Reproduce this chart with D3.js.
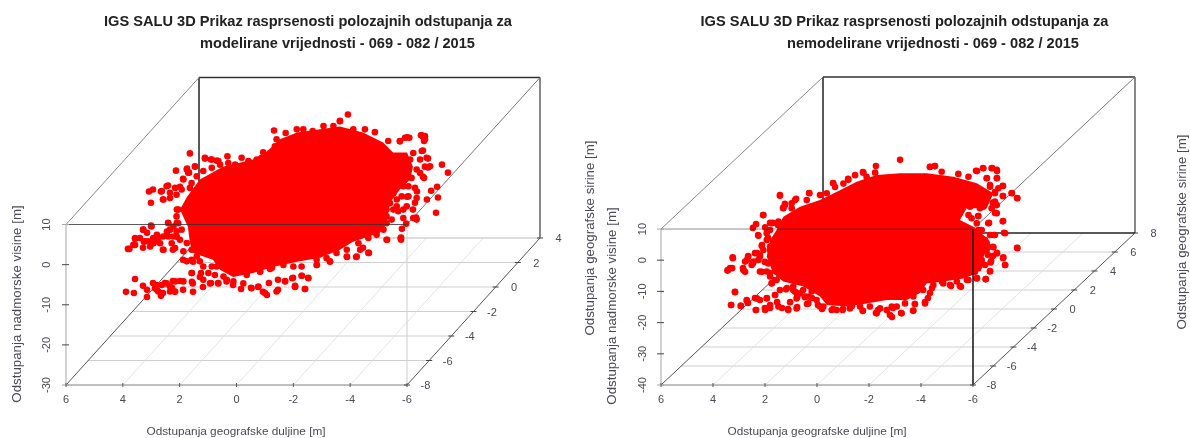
<!DOCTYPE html>
<html><head><meta charset="utf-8">
<script src="https://cdn.jsdelivr.net/npm/d3@7"></script>
<style>
html,body{margin:0;padding:0;background:#fff}
svg{display:block;filter:blur(0.45px)}
text{font-family:"Liberation Sans",Arial,sans-serif}
</style></head><body>
<svg id="c" width="1190" height="438"></svg>
<script>
// --- DATA. The depth of a single point cannot be
// recovered from a 2D projection, so each point is read as [longitude, height] on one depth plane.
const lonTicks = [6,4,2,0,-2,-4,-6];
const leftLatTicks = [-8,-6,-4,-2,0,2,4];
const rightLatTicks = [-8,-6,-4,-2,0,2,4,6,8];
const leftHeightTicks = [10,0,-10,-20,-30];
const rightHeightTicks = [10,0,-10,-20,-30,-40];
const leftReadPlaneLat = -2;
const rightReadPlaneLat = 0;

// outline of the saturated core, where single points can no longer be told apart
const leftCore = [[4.33,-4.6],[4.08,-1.4],[3.63,2.9],[2.82,6.1],[1.76,7.9],[1.27,9.9],[0.81,12.9],[0.21,14.6],[-0.60,15.4],[-1.30,16.1],[-2.11,14.6],[-2.82,12.1],[-3.17,9.6],[-3.66,9.6],[-3.87,6.1],[-3.77,2.9],[-3.41,0.4],[-3.06,-2.9],[-2.96,-7.1],[-2.71,-10.4],[-1.76,-12.6],[-1.30,-14.6],[-0.60,-16.6],[0.21,-17.6],[1.06,-18.9],[1.76,-20.4],[2.46,-21.4],[2.92,-19.6],[3.17,-17.1],[3.87,-15.4],[3.98,-12.9],[4.05,-8.9]];

const leftPoints = [[1.02,15.1],[3.98,9.4],[4.47,5.1],[4.08,5.6],[3.80,6.1],[3.45,8.1],[3.24,7.9],[3.03,7.6],[5.42,-0.1],[5.28,0.4],[5.35,-2.9],[5.0,-0.1],[4.93,-2.1],[4.75,1.4],[4.68,-0.4],[4.33,1.1],[4.22,3.1],[4.01,4.6],[4.44,-4.6],[4.08,-4.1],[5.35,-8.6],[4.75,-7.9],[5.63,-9.6],[5.49,-10.4],[5.14,-10.9],[4.79,-10.1],[4.44,-7.9],[5.91,-11.9],[5.60,-12.6],[5.28,-12.9],[6.16,-14.4],[4.44,-11.4],[5.91,-13.4],[5.63,-14.1],[4.93,-14.6],[4.58,-14.6],[4.22,-17.1],[3.87,-17.6],[5.91,-21.9],[6.23,-25.1],[5.95,-25.4],[5.63,-23.6],[5.49,-24.6],[5.49,-26.4],[5.28,-22.9],[5.14,-24.6],[4.93,-25.4],[5.0,-26.1],[4.86,-22.9],[4.58,-22.4],[4.61,-24.1],[4.51,-25.1],[4.22,-24.6],[4.33,-22.4],[3.87,-25.1],[3.91,-22.6],[3.63,-21.4],[3.91,-20.4],[3.52,-23.9],[3.24,-22.9],[2.99,-22.9],[2.68,-22.1],[2.46,-23.4],[2.18,-24.4],[1.83,-24.1],[1.58,-23.9],[1.41,-25.1],[1.27,-25.9],[1.20,-22.9],[0.88,-24.6],[0.88,-22.1],[0.63,-22.4],[0.35,-21.6],[0.28,-23.9],[1.51,-20.1],[1.09,-19.1],
[-1.58,19.1],[-1.30,17.4],[-4.22,13.6],[-4.29,12.9],[-4.15,13.9],[-3.66,13.4],[-3.41,12.4],[-4.22,10.1],[-4.40,8.1],[-4.89,6.6],[-5.10,4.6],[-4.29,6.1],[-4.40,5.9],[-4.22,3.6],[-4.72,1.1],[-4.51,0.1],[-4.75,-1.6],[-4.36,-2.1],[-4.68,-5.4],[-3.94,-2.9],[-3.98,-6.6],[-3.63,-8.1],[-3.48,-9.4],[-3.45,-11.6],[-2.96,-12.1],[-4.01,-0.1],[-3.66,-1.4],[-3.87,-4.6],[-3.45,-12.1],[-2.32,-15.4],[-2.11,-14.1],[-2.01,-14.6],[-1.87,-16.4],[-1.55,-16.4],[-0.95,-17.6],[-0.49,-18.4],[-0.18,-21.6],[0.04,-21.1],[-0.07,-24.4],[0.28,-23.6],
[3.45,8.3],[3.21,7.9],[2.98,7.5],[2.66,8.7],[2.63,7.0],[2.16,8.3],[1.92,7.5],[1.63,7.9],[1.40,9.7],[0.99,11.2],[0.93,12.9],[0.61,14.5],[0.22,15.4],[-0.01,15.4],[-0.34,15.0],[-0.72,16.2],[-1.07,16.2],[-1.30,17.5],[-1.77,15.4],[-2.18,15.4],[-2.53,14.7],[-3.00,12.5],[-3.41,12.5],[-3.59,13.3],[-3.74,13.3],[-4.18,13.9],[-4.29,13.7],[-4.26,12.5],[-4.18,10.0],[-4.35,8.3],[-4.47,6.2],[-4.12,4.5],[-4.26,3.3],[-3.94,0.8],[-4.0,-1.7],[-3.53,6.2],[-3.65,4.1],[-3.47,-1.3],[-3.65,-3.8],[-3.35,-5.0],[-3.53,-6.7],[-3.88,-6.7],[-4.0,-7.1],[-2.94,-4.6],[-3.06,-3.0],[-2.59,-10.9],[-2.94,-12.1],[-3.44,-11.7],[-2.30,-15.4],[-1.89,-16.3],[-1.54,-16.3],[-0.95,-17.5],[-0.48,-18.4],[-0.07,-24.4],[-0.19,-21.7],[0.05,-21.1],[0.38,-21.7],[0.28,-23.8],[0.63,-22.5],[0.93,-25.0],[1.34,-25.4],[1.81,-24.2],[1.57,-23.8],[2.10,-23.0],[2.45,-22.5],[2.69,-22.5],[2.98,-23.0],[3.27,-23.0],[3.51,-22.1],[3.59,-20.4],[3.92,-20.4],[3.88,-23.0],[4.21,-22.5],[4.50,-22.5],[4.80,-23.0],
[4.09,5.4],[4.04,4.6],[3.80,6.2],[4.21,2.9],[4.50,0.8],[4.80,1.2],[4.97,0],[4.91,-2.1],[4.68,-1.7],[4.45,-0.9],[4.27,0.4],[3.98,0.8],[4.39,-4.6],[4.09,-4.2],[4.45,-6.3],[4.74,-8.0],[5.33,-8.8],[5.62,-9.6],[5.91,-11.7],[5.97,-13.4],[6.11,-14.4],[5.56,-12.5],[5.38,-13.8],[5.09,-11.7],[4.91,-14.6],[4.62,-13.0],[4.50,-14.2],[4.33,-12.1],[4.21,-15.0],[4.27,-9.6],[3.92,-17.1],[4.09,-17.5],[3.63,-17.5],[3.21,-18.8],[2.92,-18.0],
[5.27,-13.0],[5.15,-12.5],[5.44,-12.5],[5.03,-13.0],[5.27,-11.7],[4.56,-11.3],[4.45,-10.0],[4.74,-11.3],[4.56,-8.8],[5.15,-23.4],[4.97,-23.4],[5.21,-24.2],[5.09,-25.0],[4.68,-23.8],[4.50,-25.0],[4.68,-25.0],
[-3.77,7.9],[-3.88,9.5],[-3.53,1.2],[-3.18,-0.5],[-3.30,-3.8],[-2.94,-8.0],[-2.83,-9.6],[-3.18,-4.6],[-3.71,-1.3],[-3.53,-4.6],[-4.12,7.9],
[4.68,-9.6],[4.09,-12.95],[3.92,-14.6],[3.74,-16.3],[3.51,-18.8],[3.33,-20.4],[3.1,-20.9],[2.80,-21.3],[3.04,-18.8],[4.39,-8.0],[4.92,-11.3],[5.74,-11.7],
[-3.30,3.7],[-3.53,2.5],[-3.18,1.6],[-2.94,0.4],[-3.06,-1.3],[-3.30,-2.1],[-2.83,-3.8],[-2.94,-6.3],[-3.12,-7.1],[-2.77,-8.4],[-3.71,1.2],[-3.82,3.3],[-4.0,5.4],
[1.98,-20.9],[1.51,-20.0],[1.16,-19.4],[0.69,-18.4],[0.34,-18.8],[0.05,-18.8],[-0.48,-17.1],[-0.83,-16.7],[-1.18,-15.4],[-1.54,-14.6],[-1.95,-13.0],[-2.30,-11.7],
[3.74,3.7],[3.51,5.0],[3.21,5.8],[2.92,6.6],[2.39,6.6],[1.87,7.0],[1.45,8.3],[1.16,9.5],[3.92,2.0]];

const rightCore = [[4.67,-14.7],[4.41,-10.4],[3.77,-7.2],[3.0,-5.1],[2.23,-1.9],[1.59,0.8],[0.82,2.95],[-0.08,3.5],[-1.10,3.5],[-2.13,2.4],[-3.03,0.3],[-3.67,-2.9],[-3.41,-7.7],[-2.64,-7.7],[-2.38,-11.5],[-2.90,-13.6],[-3.35,-16.8],[-3.35,-22.1],[-3.03,-28.6],[-2.51,-30.2],[-1.74,-31.2],[-1.10,-31.8],[-0.85,-34.9],[-0.33,-37.1],[0.44,-37.1],[1.21,-38.2],[1.97,-39.2],[2.74,-38.7],[3.0,-36.0],[3.64,-32.8],[4.41,-31.2],[4.80,-28.6],[5.05,-23.2],[4.92,-17.9]];

const rightPoints = [[0.85,5.8],[-0.08,7.8],[1.35,3.9],[1.65,2.9],[1.92,1.7],[2.50,0.4],[2.42,-0.9],[3.42,-2.8],[3.92,-4.7],[4.54,-3.5],[4.35,-6.3],[4.42,-7.6],[5.19,-9.9],[5.46,-12.8],[5.58,-14.0],[4.92,-12.4],[5.38,-16.3],[5.04,-14.7],[4.81,-12.4],[4.62,-13.1],[5.0,-17.2],[4.65,-18.5],[5.23,-19.5],[6.35,-23.7],[5.77,-23.3],[5.42,-22.1],[6.54,-27.5],[6.38,-26.9],[5.96,-26.9],[5.88,-28.1],[5.81,-24.3],[5.58,-25.3],[5.23,-28.1],[4.92,-28.5],[4.85,-31.7],[6.27,-34.5],[6.42,-38.7],[6.04,-39.0],[5.81,-37.4],[5.77,-38.1],[5.46,-40.3],[5.50,-36.5],[5.31,-37.1],[5.04,-36.5],[5.12,-39.7],[4.92,-39.7],[4.73,-35.5],[4.65,-37.8],[4.46,-39.7],[4.23,-40.0],[4.15,-37.8],[3.88,-39.4],[3.88,-36.2],[4.27,-33.3],[3.58,-36.2],[3.50,-38.4],[3.31,-36.5],[3.08,-38.7],[2.92,-40.0],[2.50,-40.0],[2.12,-40.0],[1.77,-39.0],[1.35,-40.6],[0.85,-41.3],[0.77,-40.3],[3.65,-33.9],[2.92,-33.3],
[0.23,-42.6],[-0.12,-41.3],[-0.58,-40.6],[0.19,-39.7],[0.42,-40.3],[-0.65,-38.4],[-1.04,-37.8],[-1.15,-36.5],[-0.85,-33.6],[-1.31,-33.3],[-1.69,-31.3],[-2.04,-32.6],[-2.42,-32.9],[-2.65,-30.7],[-3.04,-30.1],[-3.38,-30.4],[-2.96,-28.1],[-3.54,-27.8],[-3.15,-25.9],[-3.58,-24.6],[-4.12,-25.9],[-4.04,-23.7],[-3.65,-23.0],[-3.81,-22.1],[-4.58,-20.4],[-3.65,-20.1],[-3.46,-20.1],[-3.73,-16.3],[-4.08,-15.6],
[-1.42,5.8],[-1.23,5.5],[-3.04,4.2],[-3.27,5.2],[-3.62,5.2],[-3.81,4.2],[-3.81,2.0],[-4.04,-0.6],[-4.38,-2.8],[-4.58,-4.4],[-4.04,-3.8],[-3.73,-9.2],[-3.08,-10.2],[-3.50,-12.4],[-4.04,-11.8],[-3.65,-6.0],[-3.42,2.0],[-3.73,-2.5],
[-3.35,-5.1],[-3.54,-0.3],[-3.35,-17.9],[-3.54,-16.3],[-3.46,-22.7],[-3.35,-25.9],[5.12,-24.9],[4.73,-30.7],[4.54,-33.9],[3.96,-34.5],[5.31,-22.7],[4.92,-21.1],
[0.88,3.7],[1.33,3.7],[1.91,1.4],[2.49,0.3],[3.41,-2.9],[3.96,-5.1],[4.54,-3.7],[4.35,-6.7],[4.41,-7.7],[5.18,-9.9],[5.11,-13.8],[4.86,-12.5],[4.60,-12.0],[5.37,-16.5],[5.05,-15.7],[5.24,-19.8],[4.92,-20.0],[6.36,-23.4],[5.76,-23.0],[5.5,-22.1],[5.37,-24.3],[5.88,-24.8],[6.46,-26.9],[6.56,-27.7],[5.95,-27.5],[5.63,-25.9],[5.31,-28.0],[5.05,-28.0],[4.86,-31.8],[6.27,-34.6],[6.42,-38.7],[6.05,-39.0],[5.82,-37.1],[5.47,-40.3],[5.43,-36.6],[5.11,-40.3],[5.05,-36.6],[4.73,-35.5],[4.92,-38.7],[4.60,-39.2],[4.22,-40.3],[3.90,-39.8],[3.90,-36.6],[4.31,-33.7],[4.03,-32.8],[3.45,-38.2],[3.58,-36.0],[3.32,-34.4],[3.0,-39.2],[2.55,-40.3],[2.13,-40.3],[1.36,-40.6],[0.82,-41.4],[0.31,-41.9],[-0.14,-41.4],[0.24,-39.2],[-0.59,-40.5],[-0.65,-38.4],[-1.04,-38.2],[-1.23,-34.9],[-2.0,-32.3],[-2.38,-32.6],[-3.03,-30.2],[-3.37,-30.5],[-3.54,-28.0],[-4.12,-25.9],[-4.05,-23.4],[-3.56,-25.1],[-3.80,-22.1],[-3.67,-20.2],[-4.59,-20.5],[-4.12,-15.7],[-3.69,-16.3],[-4.03,-11.9],[-3.47,-12.5],[-3.09,-10.2],[-3.80,-9.3],[-4.59,-4.5],[-4.37,-2.9],[-4.03,-3.8],[-4.03,-0.5],[-3.80,1.9],[-3.60,5.1],[-3.80,4.6],[-3.28,5.1],[-3.0,4.3],[-1.42,5.8],[-1.23,5.6],[-1.68,4.0],[-2.32,3.3],[-2.71,2.4],[-3.41,1.9],[-3.54,-0.8],[-3.73,-5.6],[-3.41,-4.0],[-3.15,-7.7],[-2.83,-10.9],[-2.38,-9.3],[-3.09,-14.7],
[4.92,-14.7],[5.05,-17.9],[5.18,-21.1],[5.31,-23.2],[4.99,-25.4],[5.56,-24.8],[4.92,-29.6],[4.67,-30.7],[4.09,-6.1],[3.51,-5.1],[4.09,-7.7],[2.74,-2.9],[3.0,-3.5],[2.10,0.2],[1.21,2.4],
[4.03,-33.9],[3.77,-35.0],[3.45,-36.0],[3.13,-37.1],[2.87,-39.2],[2.36,-40.3],[1.85,-39.8],[1.46,-39.2],[1.08,-39.2],[0.69,-39.8],[0.43,-40.3],[0.05,-39.2],[-0.27,-38.2],[-0.59,-36.0],[-0.97,-33.9],[-1.36,-32.3],[-1.74,-31.8],[-2.26,-31.2],[-2.71,-30.7],
[-3.09,-26.9],[-3.22,-24.3],[-3.41,-21.1],[-3.41,-18.9],[-3.22,-14.7],[-3.03,-12.5],[-2.71,-9.9],[-2.77,-7.2],[-3.28,-7.2],[-3.60,-7.7],[-3.80,-6.7],[-3.73,-2.9],[-3.86,-1.3]];

const titlesLeft = ["IGS SALU 3D Prikaz rasprsenosti polozajnih odstupanja za","modelirane vrijednosti - 069 - 082 / 2015"];
const titlesRight = ["IGS SALU 3D Prikaz rasprsenosti polozajnih odstupanja za","nemodelirane vrijednosti - 069 - 082 / 2015"];
const lonTitle = "Odstupanja geografske duljine [m]";
const heightTitle = "Odstupanja nadmorske visine [m]";
const latTitle = "Odstupanja geografske sirine [m]";

// --- LAYOUT
const panels = [
 {x0:66,x1:407,zTop:224.5,zBot:385,dx:133,dy:-147,lat:leftLatTicks,h:leftHeightTicks,plane:leftReadPlaneLat,core:leftCore,pts:leftPoints,
  titles:titlesLeft,t1:[308,26],t2:[337.5,48],xTitle:[236,435],strongFront:false,backFloorDark:false,
  zTitleX:21,zTitleY:304,zLabelX:50},
 {x0:661,x1:973,zTop:229,zBot:385,dx:162,dy:-152,lat:rightLatTicks,h:rightHeightTicks,plane:rightReadPlaneLat,core:rightCore,pts:rightPoints,
  titles:titlesRight,t1:[904.5,26],t2:[933,48],xTitle:[817,435],strongFront:true,backFloorDark:true,
  zTitleX:616,zTitleY:306,zLabelX:646}
];
const svg = d3.select("#c");
const txt = "#4a4a55";

panels.forEach(p=>{
  const g = svg.append("g");
  const x = d3.scaleLinear().domain([6,-6]).range([p.x0,p.x1]);
  const z = d3.scaleLinear().domain([p.h[0],p.h[p.h.length-1]]).range([p.zTop,p.zBot]);
  const latDom = [p.lat[0],p.lat[p.lat.length-1]];
  const ox = d3.scaleLinear().domain(latDom).range([0,p.dx]);
  const oy = d3.scaleLinear().domain(latDom).range([0,p.dy]);
  const px = (lon,lat)=>x(lon)+ox(lat);
  const py = (h,lat)=>z(h)+oy(lat);
  const lo=latDom[0], hi=latDom[1], hT=p.h[0], hB=p.h[p.h.length-1];
  const seg=(a,b,c,w)=>g.append("line").attr("x1",a[0]).attr("y1",a[1]).attr("x2",b[0]).attr("y2",b[1]).attr("stroke",c).attr("stroke-width",w);
  const P=(lon,lat,h)=>[px(lon,lat),py(h,lat)];

  // floor grid
  p.lat.slice(1).forEach(l=>{ if(l!==hi) seg(P(6,l,hB),P(-6,l,hB),"#cfcfcf",1); });
  lonTicks.slice(1,-1).forEach(v=>seg(P(v,lo,hB),P(v,hi,hB),"#dcdcdc",0.8));
  // back frame
  seg(P(6,hi,hT),P(6,hi,hB),"#111",1.4);
  seg(P(6,hi,hT),P(-6,hi,hT),"#333",1.4);
  seg(P(-6,hi,hT),P(-6,hi,hB),"#555",1.4);
  seg(P(6,hi,hB),P(-6,hi,hB),p.backFloorDark?"#222":"#bbb",p.backFloorDark?1.3:1.2);
  // side edges
  seg(P(6,lo,hT),P(6,hi,hT),"#888",1);
  seg(P(-6,lo,hT),P(-6,hi,hT),"#777",1);
  seg(P(6,lo,hB),P(6,hi,hB),"#555",1);
  seg(P(-6,lo,hB),P(-6,hi,hB),"#555",1);
  // front frame
  seg(P(6,lo,hT),P(6,lo,hB),"#bbb",1.3);
  seg(P(6,lo,hB),P(-6,lo,hB),"#aaa",1.5);
  if(!p.strongFront) seg(P(-6,lo,hT),P(-6,lo,hB),"#ccc",1);

  // points
  const line = d3.line().x(d=>px(d[0],p.plane)).y(d=>py(d[1],p.plane)).curve(d3.curveLinearClosed);
  g.append("path").attr("d",line(p.core)).attr("fill","#ff0000");
  g.append("g").selectAll("circle").data(p.pts).join("circle")
    .attr("cx",d=>px(d[0],p.plane)).attr("cy",d=>py(d[1],p.plane)).attr("r",3.3).attr("fill","#ff0000");

  // lines in front of the points
  seg(P(6,lo,hT),P(-6,lo,hT),p.strongFront?"#222":"#333",1).attr("opacity",p.strongFront?0.5:0.8);
  if(p.strongFront) seg(P(-6,lo,hT),P(-6,lo,hB),"#000",1.4);

  // ticks
  p.h.forEach(v=>{
    seg([p.x0-4,z(v)],[p.x0+3,z(v)],v===hB||v===hT?"#aaa":"#555",1.1);
    g.append("text").attr("transform",`translate(${p.zLabelX},${z(v)}) rotate(-90)`).attr("text-anchor","middle").attr("font-size",11).attr("fill",txt).text(v);
  });
  lonTicks.forEach(v=>{
    seg([x(v),p.zBot-2],[x(v),p.zBot+2],"#555",1);
    g.append("text").attr("x",x(v)).attr("y",p.zBot+18).attr("text-anchor","middle").attr("font-size",11).attr("fill",txt).text(v);
  });
  p.lat.forEach(l=>{
    const e=P(-6,l,hB);
    seg([e[0]-3,e[1]],[e[0]+3,e[1]],"#444",1);
    g.append("text").attr("x",e[0]+18.5).attr("y",e[1]+4).attr("text-anchor","middle").attr("font-size",11).attr("fill",txt).text(l);
  });
  // titles
  [p.t1,p.t2].forEach((t,i)=>g.append("text").attr("x",t[0]).attr("y",t[1]).attr("text-anchor","middle").attr("font-weight","bold").attr("font-size",14.6).attr("fill","#222").text(p.titles[i]));
  g.append("text").attr("x",p.xTitle[0]).attr("y",p.xTitle[1]).attr("text-anchor","middle").attr("font-size",11.8).attr("fill",txt).text(lonTitle);
  g.append("text").attr("transform",`translate(${p.zTitleX},${p.zTitleY}) rotate(-90)`).attr("text-anchor","middle").attr("font-size",13.3).attr("fill",txt).text(heightTitle);
});
// depth-axis titles of the right panel
[[594,238],[1186,232]].forEach(c=>{
  svg.append("text").attr("transform",`translate(${c[0]},${c[1]}) rotate(-90)`).attr("text-anchor","middle").attr("font-size",13.3).attr("fill",txt).text(latTitle);
});
</script></body></html>
